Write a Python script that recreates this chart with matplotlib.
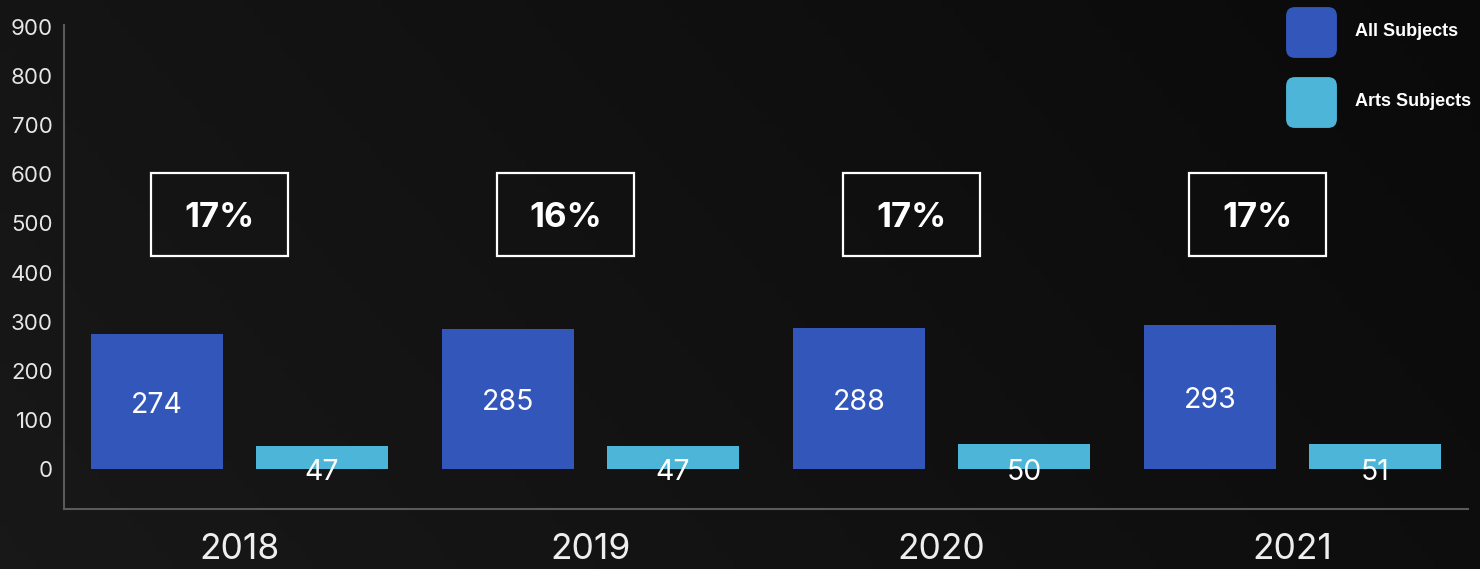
import numpy as np
import matplotlib
matplotlib.use("Agg")
import matplotlib.pyplot as plt
from matplotlib.patches import Rectangle, FancyBboxPatch

years = ["2018", "2019", "2020", "2021"]
all_subjects = [274, 285, 288, 293]
arts_subjects = [47, 47, 50, 51]
share_labels = ["17%", "16%", "17%", "17%"]
series_names = ["All Subjects", "Arts Subjects"]
yticks = [0, 100, 200, 300, 400, 500, 600, 700, 800, 900]

BLUE = "#3356bb"
CYAN = "#4db6d8"
FONT = ["Inter", "DejaVu Sans"]

W, H = 1480, 569
fig = plt.figure(figsize=(W / 100, H / 100), dpi=100)

# background gradient
bg = fig.add_axes([0, 0, 1, 1], zorder=-10)
gx = np.linspace(0, 1, 256)
gy = np.linspace(0, 1, 64)
GX, GY = np.meshgrid(gx, gy)
val = 0.095 - 0.055 * (0.75 * GX + 0.25 * (1 - GY))
img = np.dstack([val, val, val])
bg.imshow(img, extent=[0, 1, 0, 1], aspect="auto", origin="upper")
bg.axis("off")

ax = fig.add_axes([64 / W, 60 / H, 1404 / W, 484 / H])
ax.set_facecolor("none")

x = np.arange(len(years))
off = 0.235
bw = 0.376
ax.bar(x - off, all_subjects, width=bw, color=BLUE, zorder=3)
ax.bar(x + off, arts_subjects, width=bw, color=CYAN, zorder=3)

for i in range(len(years)):
    ax.text(x[i] - off, all_subjects[i] / 2 - 8, str(all_subjects[i]), ha="center", va="center",
            color="white", fontsize=20.5, family=FONT, zorder=4)
    ax.text(x[i] + off, -8, str(arts_subjects[i]), ha="center", va="center",
            color="white", fontsize=20.5, family=FONT, zorder=4)
    # share box (boxes sit slightly left of group centre, spacing 346px vs 351px)
    bx = (x[i] * 346 - 20) / 351
    ax.add_patch(Rectangle((bx - 0.1965, 434), 0.393, 169, fill=False,
                           edgecolor="white", linewidth=1.6, zorder=4))
    ax.text(bx, 512, share_labels[i], ha="center", va="center", color="white",
            fontsize=25, fontweight="bold", family=FONT, zorder=5)

ax.set_xlim(-0.5, 3.5)
ax.set_ylim(-81.5, 904)
ax.set_yticks(yticks)
ax.set_yticklabels([str(v) for v in yticks], fontsize=16, color="#e6e6e6", family=FONT)
ax.set_xticks(x)
ax.set_xticklabels(years, fontsize=25.5, color="#eeeeee", family=FONT)
ax.tick_params(axis="y", length=0, pad=8)
ax.tick_params(axis="x", length=0, pad=17)
for s in ["top", "right"]:
    ax.spines[s].set_visible(False)
for s in ["left", "bottom"]:
    ax.spines[s].set_color("#5a5a5a")
    ax.spines[s].set_linewidth(1.5)

# legend
for j, (name, col) in enumerate(zip(series_names, [BLUE, CYAN])):
    y0 = 58 + 70 * j  # bottom pixel from top
    p = FancyBboxPatch(((1286 + 6) / W, (H - y0 + 6) / H), (51 - 12) / W, (51 - 12) / H,
                       boxstyle="round,pad=0.004,rounding_size=0.006",
                       transform=fig.transFigure, facecolor=col, edgecolor="none",
                       mutation_aspect=W / H)
    fig.patches.append(p)
    fig.text(1355 / W, (H - (y0 - 26)) / H, name, ha="left", va="center",
             color="white", fontsize=13, fontweight="bold",
             family=["Liberation Sans", "DejaVu Sans"])

fig.savefig("out.png", dpi=100)
